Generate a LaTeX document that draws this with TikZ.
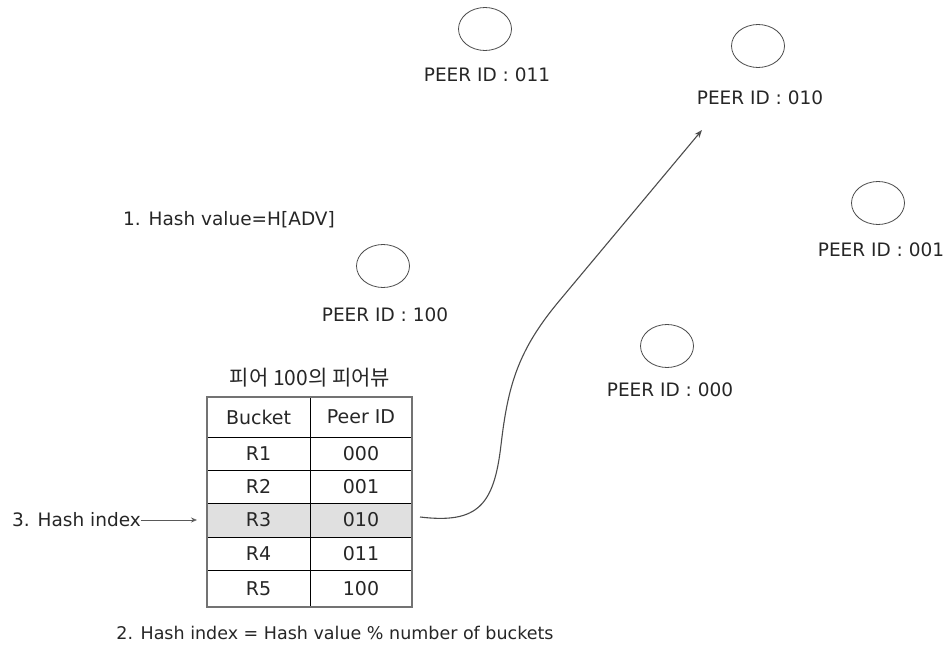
\documentclass[tikz,border=0pt]{standalone}
\usepackage{fontspec}
\setmainfont{DejaVu Sans}
\newfontfamily\krfont{Noto Sans CJK KR}
\usetikzlibrary{arrows.meta}
\begin{document}
\begin{tikzpicture}[x=1pt,y=-1pt,
  lbl/.style={font=\fontsize{18.5}{20}\selectfont, inner sep=0pt, text=black!85},
  cell/.style={font=\fontsize{19}{20}\selectfont, inner sep=0pt, text=black!85}
]
\useasboundingbox (0,0) rectangle (943,655);
% peers
\foreach \n/\cx/\cy/\lx/\ly/\id in {p011/485/29/487/75/011, p010/758/46/760/98/010, p001/878/203/881/250/001, p100/383/266/385/315/100, p000/667/346/670/390/000}{
  \draw[black!70, line width=0.8pt] (\cx,\cy) ellipse [x radius=26.5, y radius=21.5];
  \node[lbl] (\n) at (\lx,\ly) {PEER ID : \id};
}
% title texts
\node[lbl] (hv) at (229,220) {1. Hash value=H[ADV]};
\node[lbl, font=\krfont\fontsize{21}{22}\selectfont] (kt) at (310,378) {피어 100의 피어뷰};
\node[lbl, font=\fontsize{17.5}{19}\selectfont] (hi2) at (335,633) {2. Hash index = Hash value \% number of buckets};
\node[lbl, anchor=west] (hi3) at (12,520) {3. Hash index};
% table
\fill[black!12] (207,503) rectangle (412,537);
\draw[black, line width=0.7pt] (207,437) -- (412,437)
  (207,470) -- (412,470) (207,503) -- (412,503) (207,537) -- (412,537) (207,570) -- (412,570)
  (310,397) -- (310,607);
\draw[black!55, line width=1.6pt] (207,397) rectangle (412,607);
\node[cell] (hb) at (258.5,417) {Bucket};
\node[cell] (hp) at (361,417) {Peer ID};
\node[cell] (b1) at (258.5,453.5) {R1};  \node[cell] (v1) at (361,453.5) {000};
\node[cell] (b2) at (258.5,486.5) {R2};  \node[cell] (v2) at (361,486.5) {001};
\node[cell] (b3) at (258.5,520) {R3};    \node[cell] (v3) at (361,520) {010};
\node[cell] (b4) at (258.5,553.5) {R4};  \node[cell] (v4) at (361,553.5) {011};
\node[cell] (b5) at (258.5,588.5) {R5};  \node[cell] (v5) at (361,588.5) {100};
\coordinate (r3w) at (197,520);
\coordinate (r3e) at (420,517);
\coordinate (tip) at (702,130);
% arrows
\draw[black!65, line width=0.8pt, -{Stealth[open,length=6pt,width=5pt]}] (hi3.east) -- (r3w);
\draw[black!70, line width=1.1pt, -{Stealth[open,length=8pt,width=6pt]}]
  (r3e) .. controls (478,524) and (494,505) .. (501,445)
  .. controls (508,385) and (518,350) .. (560,300)
  -- (tip);
\end{tikzpicture}
\end{document}
